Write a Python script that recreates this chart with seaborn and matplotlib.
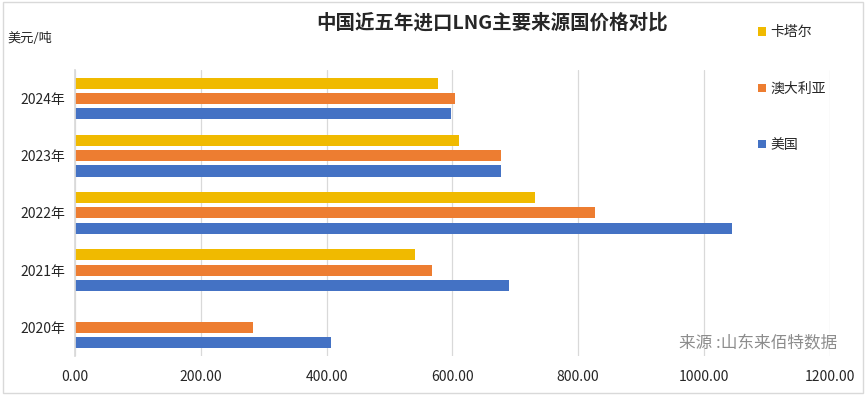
import pandas as pd
import numpy as np
import matplotlib
matplotlib.use("Agg")
import matplotlib.pyplot as plt
import seaborn as sns

# --- Data ---
years = ['2024年', '2023年', '2022年', '2021年', '2020年']
sources = ['卡塔尔', '澳大利亚', '美国']
qatar = [578, 611, 732, 541, np.nan]
australia = [605, 677, 827, 567, 283]
usa = [598, 677, 1045, 690, 407]
x_ticks = [0, 200, 400, 600, 800, 1000, 1200]

colors = ['#F0BA00', '#ED7D31', '#4472C4']

# --- Setup ---
sns.set_theme(style="white")
plt.rcParams['font.family'] = ['Noto Sans CJK SC', 'DejaVu Sans']

df = pd.DataFrame({
    'year': years * 3,
    'source': [s for s in sources for _ in years],
    'price': qatar + australia + usa,
})

fig = plt.figure(figsize=(8.66, 3.95), dpi=100)
ax = fig.add_axes([0.0866, 0.099, 0.958 - 0.0866, 0.823 - 0.099])

sns.barplot(data=df, x='price', y='year', hue='source', order=years,
            hue_order=sources, palette=colors, orient='h', width=0.8,
            gap=0.27, saturation=1, linewidth=0, ax=ax, legend=True)

ax.set_xlim(0, 1200)
ax.set_xticks(x_ticks)
ax.set_xticklabels([f"{v:.2f}" for v in x_ticks], fontsize=10)
ax.tick_params(axis='y', labelsize=10, length=0, pad=7)
ax.tick_params(axis='x', length=0, pad=10)
ax.set_xlabel("")
ax.set_ylabel("")
ax.xaxis.grid(True, color='#D9D9D9', linewidth=0.9)
ax.set_axisbelow(True)
for s in ['top', 'right', 'bottom']:
    ax.spines[s].set_visible(False)
ax.spines['left'].set_color('#D9D9D9')

# --- Legend ---
handles, labels = ax.get_legend_handles_labels()
ax.legend(handles, labels, loc='upper left', bbox_to_anchor=(0.898, 1.175),
          frameon=False, fontsize=10, handlelength=0.55, handleheight=0.55,
          handletextpad=0.3, labelspacing=3.05, borderaxespad=0)

# --- Text ---
fig.text(0.568, 0.943, "中国近五年进口LNG主要来源国价格对比", ha='center', va='center',
         fontsize=14, fontweight='bold')
fig.text(0.009, 0.902, "美元/吨", ha='left', va='center', fontsize=9.5)
fig.text(0.967, 0.129, "来源 :山东来佰特数据", ha='right', va='center',
         fontsize=12, color='#8C8C8C')

# frame of the screenshot
fig.patches.append(plt.Rectangle((0.003, 0.004), 0.994, 0.992, transform=fig.transFigure,
                                 fill=False, edgecolor='#D9D9D9', linewidth=1))

fig.savefig("out.png", dpi=100)
plt.close()
